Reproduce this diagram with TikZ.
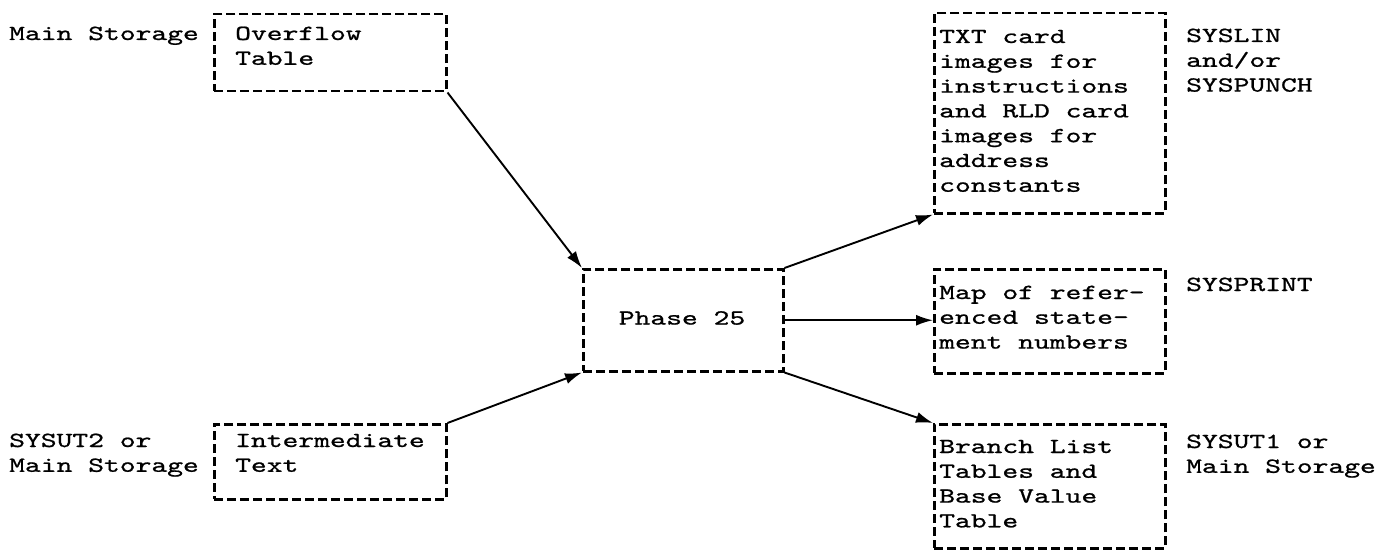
\documentclass[tikz,border=0pt]{standalone}
\usepackage{fontspec}
\newfontfamily\tw[FakeStretch=1.4,FakeBold=0.9]{lmmono10-regular.otf}
\usetikzlibrary{arrows.meta}
\begin{document}
\begin{tikzpicture}[x=1bp,y=-1bp,
  box/.style={draw, line width=2.5bp, dash pattern=on 9bp off 4bp, inner sep=0pt, anchor=north west},
  txt/.style={font=\tw\fontsize{21.5bp}{24.8bp}\selectfont, align=left, anchor=base west, inner sep=0pt},
  arr/.style={line width=1.9bp, -{Latex[length=17bp,width=11bp]}}]
\useasboundingbox (0,0) rectangle (1382,551);
% boxes
\node[box, minimum width=232bp, minimum height=77bp] (ovf) at (213,13) {};
\node[box, minimum width=232bp, minimum height=75bp] (int) at (213,423) {};
\node[box, minimum width=200bp, minimum height=102bp] (ph) at (582,268) {};
\node[box, minimum width=231bp, minimum height=200bp] (txt) at (933,12) {};
\node[box, minimum width=231bp, minimum height=104bp] (map) at (933,268) {};
\node[box, minimum width=231bp, minimum height=124bp] (br) at (933,423) {};
% texts in boxes (anchor = baseline of last line)
\node[txt] (tovf) at (235,64.8) {Overflow\\Table};
\node[txt] (tint) at (235,471.8) {Intermediate\\Text};
\node[txt, anchor=center] (tph) at (682,318) {Phase 25};
\node[txt] (ttxt) at (939,191.8) {TXT card\\images for\\instructions\\and RLD card\\images for\\address\\constants};
\node[txt] (tmap) at (939,348.6) {Map of refer-\\enced state-\\ment numbers};
\node[txt] (tbr) at (939,527.4) {Branch List\\Tables and\\Base Value\\Table};
% side labels
\node[txt] (l1) at (9,40) {Main Storage};
\node[txt] (l2) at (9,471.8) {SYSUT2 or\\Main Storage};
\node[txt] (r1) at (1186,91.6) {SYSLIN\\and/or\\SYSPUNCH};
\node[txt] (r2) at (1186,291) {SYSPRINT};
\node[txt] (r3) at (1186,472.8) {SYSUT1 or\\Main Storage};
% connectors
\draw[arr] (ovf.south east) -- (ph.north west);
\draw[arr] (int.north east) -- (ph.south west);
\draw[arr] (ph.north east) -- (txt.south west);
\draw[arr] (ph.east) -- (ph.east -| map.west);
\draw[arr] (ph.south east) -- (br.north west);
\end{tikzpicture}
\end{document}
